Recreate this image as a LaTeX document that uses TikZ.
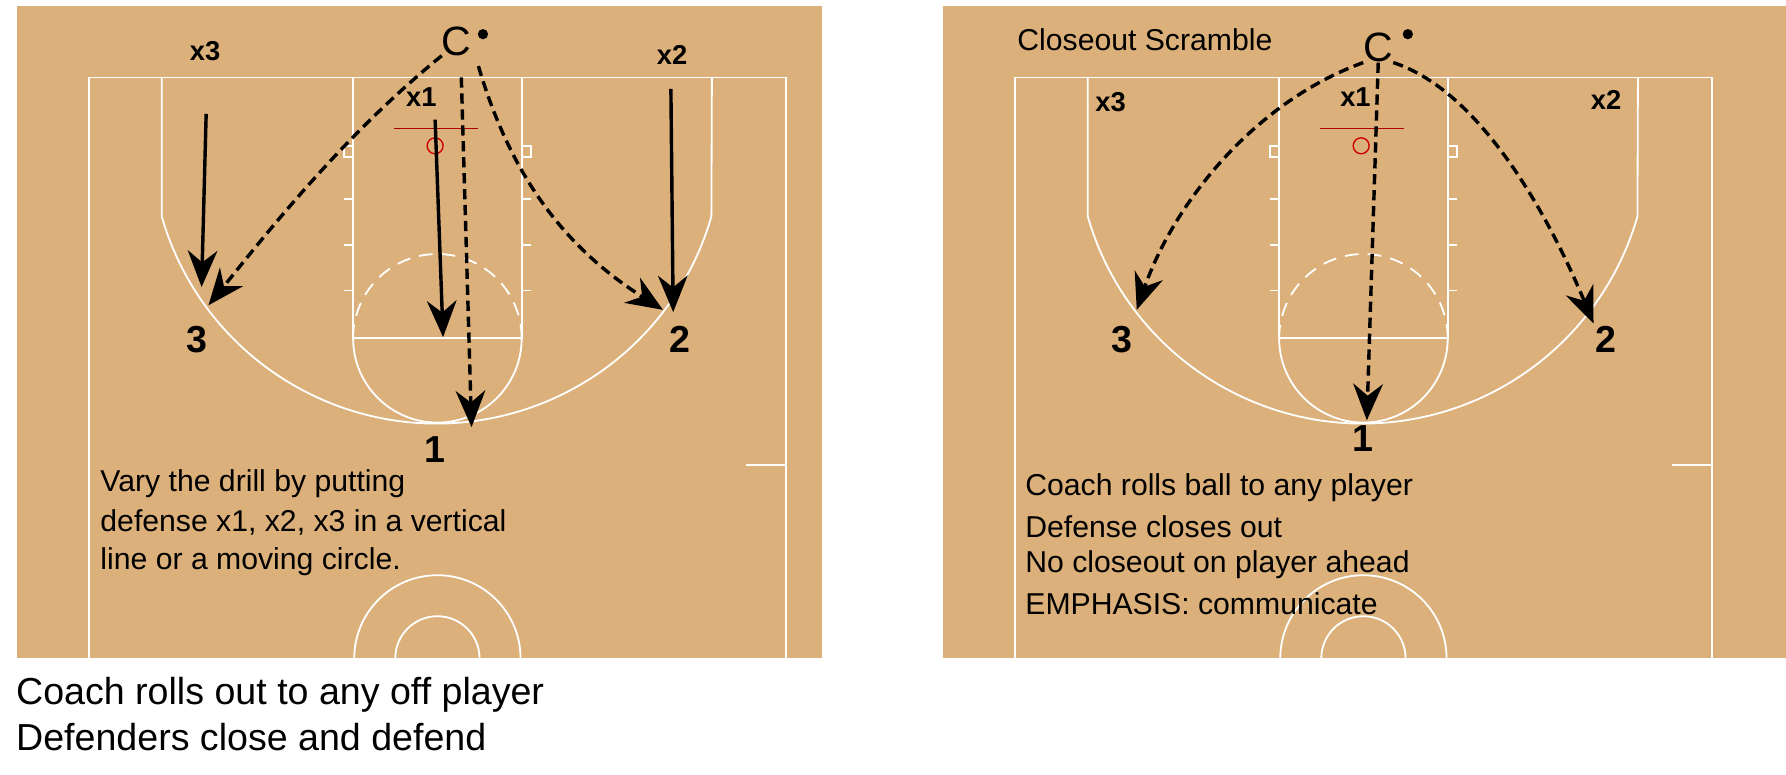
\documentclass[tikz,border=0pt]{standalone}
\usepackage{fontspec}
\setmainfont{Liberation Sans}
\usetikzlibrary{arrows.meta}
\definecolor{woodc}{HTML}{DCB07A}
\newcommand{\mycourt}{%
  \draw[courtline] (-306,578) -- (-306,68) -- (306,68) -- (306,578);
  \draw[courtline] (-242,68) -- (-242,190) arc[start angle=164,end angle=16,radius=251] -- (241,68);
  \draw[courtline] (-74,68) -- (-74,297) -- (74,297) -- (74,68);
  \draw[courtline] (-74,297) arc[start angle=180,end angle=0,radius=74];
  \draw[courtline,dash pattern=on 12pt off 8pt] (-74,297) arc[start angle=180,end angle=360,radius=74];
  \foreach \yy in {175,215,255}{\draw[courtline] (-74,\yy) -- (-82,\yy); \draw[courtline] (74,\yy) -- (82,\yy);}
  \draw[courtline] (-82,128) rectangle (-74,138); \draw[courtline] (74,128) rectangle (82,138);
  \draw[courtline] (271,408) -- (306,408);
  \draw[red!70!black,line width=1.2pt] (-38,113) -- (36,113);
  \draw[red!80!black,line width=1.2pt] (-2,128) circle (7);
  \begin{scope}
    \clip (-300,400) rectangle (300,578);
    \draw[courtline] (0,578) circle (73); \draw[courtline] (0,578) circle (37);
  \end{scope}}
\begin{document}
\begin{tikzpicture}[x=1pt,y=-1pt,
  courtline/.style={white,line width=1.6pt},
  xl/.style={font=\fontsize{24}{28}\selectfont\bfseries,inner sep=0},
  nl/.style={font=\fontsize{33}{36}\selectfont\bfseries,inner sep=0},
  cl/.style={font=\fontsize{36}{36}\selectfont,inner sep=0},
  txt/.style={font=\fontsize{26.5}{30}\selectfont,inner sep=0,anchor=west},
  btxt/.style={font=\fontsize{33}{36}\selectfont,inner sep=0,anchor=west},
  solidarr/.style={line width=3pt,-{Stealth[length=32pt,width=26pt]}},
  dasharr/.style={line width=3pt,dash pattern=on 9pt off 5pt,-{Stealth[length=32pt,width=26pt]}}]
\useasboundingbox (0,0) rectangle (1568,680);
\fill[white] (0,0) rectangle (1568,680);
\fill[woodc] (15,5) rectangle (722,578);
\fill[woodc] (828,5) rectangle (1568,578);
\begin{scope}[xshift=384pt]\mycourt\end{scope}
\begin{scope}[xshift=1197pt]\mycourt\end{scope}
% left
\node[xl] (lx3) at (180,45) {x3};
\node[xl] (lx1) at (370,85) {x1};
\node[xl] (lx2) at (590,48) {x2};
\node[cl] (lc) at (401,36) {C};
\fill (424,30) circle (4.5);
\node[nl] (l3) at (173,298) {3};
\node[nl] (l2) at (597,298) {2};
\node[nl] (l1) at (382,395) {1};
\coordinate (a1s) at (181,100); \coordinate (a1e) at (177,252);
\coordinate (a2s) at (382,105); \coordinate (a2e) at (389,296);
\coordinate (a3s) at (589,78); \coordinate (a3e) at (591,274);
\draw[solidarr] (a1s) -- (a1e);
\draw[solidarr] (a2s) -- (a2e);
\draw[solidarr] (a3s) -- (a3e);
\coordinate (d1e) at (183,268); \coordinate (d2e) at (414,375); \coordinate (d3e) at (582,272);
\draw[dasharr] (lc.south west) .. controls (300,120) and (230,210) .. (d1e);
\draw[dasharr] (405,68) -- (d2e);
\draw[dasharr] (420,58) .. controls (450,160) and (500,220) .. (d3e);
\node[txt] (lt1) at (88,425) {Vary the drill by putting};
\node[txt] (lt2) at (88,459) {defense x1, x2, x3 in a vertical};
\node[txt] (lt3) at (88,493) {line or a moving circle.};
\node[btxt] (b1) at (14,610) {Coach rolls out to any off player};
\node[btxt] (b2) at (14,647) {Defenders close and defend};
% right
\node[txt] (title) at (893,35) {Closeout Scramble};
\node[xl] (rx3) at (975,90) {x3};
\node[xl] (rx1) at (1190,85) {x1};
\node[xl] (rx2) at (1410,88) {x2};
\node[cl] (rc) at (1210,42) {C};
\fill (1236,30) circle (4.5);
\node[nl] (r3) at (985,298) {3};
\node[nl] (r2) at (1410,298) {2};
\node[nl] (r1) at (1197,385) {1};
\coordinate (e1) at (998,272); \coordinate (e2) at (1200,369); \coordinate (e3) at (1399,284);
\draw[dasharr] (rc.south west) .. controls (1100,90) and (1030,180) .. (e1);
\draw[dasharr] (rc.south) -- (e2);
\draw[dasharr] (rc.south east) .. controls (1300,80) and (1360,190) .. (e3);
\node[txt] (rt1) at (900,428) {Coach rolls ball to any player};
\node[txt] (rt2) at (900,462) {Defense closes out};
\node[txt] (rt3) at (900,496) {No closeout on player ahead};
\node[txt] (rt4) at (900,530) {EMPHASIS: communicate};
\end{tikzpicture}
\end{document}
